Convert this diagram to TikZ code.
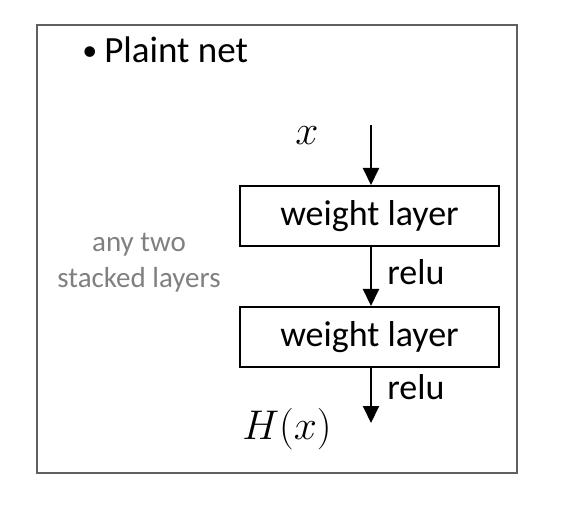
\documentclass[tikz,border=0pt]{standalone}
\usepackage{fontspec}
\setmainfont{Carlito}
\usepackage{xcolor}
\usetikzlibrary{positioning,arrows.meta}
\definecolor{framegray}{RGB}{96,96,96}
\definecolor{notegray}{RGB}{128,128,128}

\begin{document}
\begin{tikzpicture}[x=0.5pt, y=-0.5pt,
  layer/.style={draw=black, line width=1pt, fill=white,
    minimum width=129.5pt, minimum height=30pt, font=\fontsize{18}{21}\selectfont,
    inner sep=0pt},
  lbl/.style={font=\fontsize{18}{21}\selectfont, inner sep=0pt},
  mathlbl/.style={font=\fontsize{20}{24}\selectfont, inner sep=0pt},
  note/.style={font=\fontsize{14.5}{18}\selectfont, text=notegray, align=center, inner sep=0pt},
  arr/.style={-{Triangle[length=8.5pt, width=8pt]}, line width=1pt, black},
]
  \useasboundingbox (0,0) rectangle (563,519);
  \draw[framegray, line width=1pt] (37,25) rectangle (517,473);

  \node[lbl, anchor=base west, font=\fontsize{18.5}{22}\selectfont] (title) at (82,63)
    {\raisebox{1pt}{\fontsize{15}{18}\selectfont •}\hspace{3.5pt}Plaint net};

  \node[layer] (wl1) at (369.5,216) {weight layer};
  \node[layer, below=29.5pt of wl1] (wl2) {weight layer};

  \coordinate (in) at (371,125);
  \coordinate (out) at (371,423);
  \draw[arr] (in) -- (in |- wl1.north);
  \draw[arr] (in |- wl1.south) -- (in |- wl2.north);
  \draw[arr] (in |- wl2.south) -- (out);

  \node[mathlbl] (x) at (307,136) {$x$};
  \node[mathlbl] (hx) at (287,429) {$H(x)$};
  \node[lbl, anchor=west] (relu1) at (387,272) {relu};
  \node[lbl, anchor=west] (relu2) at (387,387) {relu};

  \node[note] (any) at (139,263) {any two\\stacked layers};
\end{tikzpicture}
\end{document}
